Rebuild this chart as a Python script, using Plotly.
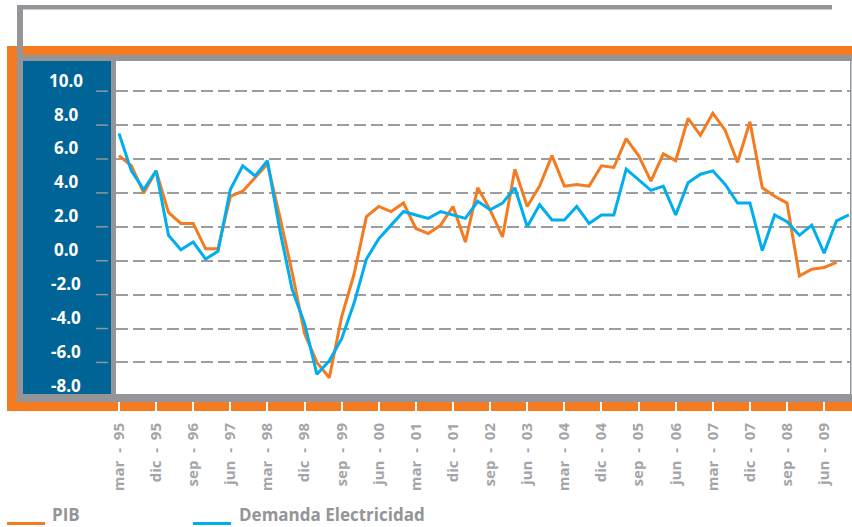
import plotly.graph_objects as go

# ---------------- data ----------------
NB = "\u00a0"
quarters = []
months = ["mar", "jun", "sep", "dic"]
for year in range(1995, 2010):
    for m in months:
        quarters.append(f"{m}{NB}{NB}-{NB}{NB}{str(year)[2:]}")

pib = [6.2, 5.6, 4.0, 5.3, 2.85, 2.2, 2.2, 0.7, 0.7, 3.8,
       4.1, 4.9, 5.7, 2.6, -0.7, -4.3, -6.0, -6.9, -3.3, -0.8,
       2.6, 3.2, 2.9, 3.4, 1.9, 1.6, 2.1, 3.2, 1.1, 4.3,
       3.0, 1.4, 5.4, 3.2, 4.4, 6.2, 4.4, 4.5, 4.4, 5.6,
       5.5, 7.2, 6.2, 4.7, 6.3, 5.9, 8.4, 7.4, 8.7, 7.7,
       5.8, 8.2, 4.3, 3.8, 3.4, -0.9, -0.5, -0.4, -0.1]

demanda = [7.5, 5.3, 4.2, 5.3, 1.5, 0.65, 1.1, 0.1, 0.55, 4.2,
           5.6, 5.0, 5.9, 1.8, -1.7, -3.7, -6.7, -5.9, -4.6, -2.5,
           0.1, 1.3, 2.1, 2.9, 2.7, 2.5, 2.9, 2.7, 2.5, 3.5,
           3.0, 3.4, 4.3, 2.0, 3.3, 2.4, 2.4, 3.2, 2.2, 2.7,
           2.7, 5.4, 4.75, 4.15, 4.4, 2.7, 4.6, 5.1, 5.3, 4.5,
           3.4, 3.4, 0.6, 2.7, 2.3, 1.5, 2.1, 0.45, 2.35, 2.7]

y_ticks = [10, 8, 6, 4, 2, 0, -2, -4, -6, -8]
y_tick_text = ["10.0", "8.0", "6.0", "4.0", "2.0", "0.0", "-2.0", "-4.0", "-6.0", "-8.0"]

x_tick_idx = list(range(0, 58, 3))
x_tick_text = [quarters[i] for i in x_tick_idx]

series_names = ["PIB", "Demanda Electricidad"]

# ---------------- styling ----------------
ORANGE = "#f47b20"
CYAN = "#00aeef"
GRAY = "#939598"
BLUE = "#006496"
LABEL_GRAY = "#a3a5a8"

W, H = 852, 527
L, R, T, B = 116, 2, 61, 132
PW, PH = W - L - R, H - T - B
Y_RANGE = [-7.92, 11.78]


def PX(px):
    return (px - L) / PW


def PY(py):
    return (H - B - py) / PH


def VY(v):
    return (v - Y_RANGE[0]) / (Y_RANGE[1] - Y_RANGE[0])


xs = list(range(len(demanda)))

fig = go.Figure()
fig.add_trace(go.Scatter(x=xs[:len(pib)], y=pib, mode="lines", name=series_names[0],
                         line=dict(color=ORANGE, width=3), showlegend=False))
fig.add_trace(go.Scatter(x=xs, y=demanda, mode="lines", name=series_names[1],
                         line=dict(color=CYAN, width=3), showlegend=False))

shapes = []


def rect(x0, y0, x1, y1, color, layer="below"):
    shapes.append(dict(type="rect", xref="paper", yref="paper",
                       x0=PX(x0), x1=PX(x1), y0=PY(y1), y1=PY(y0),
                       fillcolor=color, line=dict(width=0), layer=layer))


rect(17, 5, 832, 9.5, GRAY)          # top thin gray line
rect(7, 46, 852, 55, ORANGE)         # orange top band
rect(7, 46, 17, 411, ORANGE)         # orange left
rect(7, 401, 852, 411, ORANGE)       # orange bottom
rect(17, 55, 852, 61, GRAY)          # gray top band
rect(17, 5, 23, 402, GRAY)           # gray left
rect(23, 61, 111, 394, BLUE)         # blue label panel
rect(111, 61, 116, 395, GRAY)        # separator
rect(850, 61, 851.5, 395, GRAY)      # right border
rect(17, 394, 852, 402, GRAY, layer="above")  # gray bottom band

# small tick marks in the blue panel
for v in y_ticks[:-1]:
    shapes.append(dict(type="line", xref="paper", yref="y",
                       x0=PX(96), x1=PX(108), y0=v, y1=v,
                       line=dict(color=GRAY, width=1.5), layer="above"))

# legend samples
shapes.append(dict(type="line", xref="paper", yref="paper", x0=PX(7), x1=PX(45),
                   y0=PY(523.5), y1=PY(523.5), line=dict(color=ORANGE, width=3)))
shapes.append(dict(type="line", xref="paper", yref="paper", x0=PX(193), x1=PX(231),
                   y0=PY(523.5), y1=PY(523.5), line=dict(color=CYAN, width=3)))

annotations = []
for v, t in zip(y_ticks, y_tick_text):
    annotations.append(dict(x=PX(66), xref="paper", y=VY(v), yref="paper", yshift=11,
                            text=t, showarrow=False, xanchor="center", yanchor="middle",
                            font=dict(family="Open Sans", size=17, color="white", weight="bold")))

annotations.append(dict(x=PX(51), xref="paper", y=PY(527), yref="paper",
                        text=series_names[0], showarrow=False, xanchor="left", yanchor="bottom",
                        borderpad=0,
                        font=dict(family="Open Sans", size=17, color=GRAY, weight="bold")))
annotations.append(dict(x=PX(238), xref="paper", y=PY(527), yref="paper",
                        text=series_names[1], showarrow=False, xanchor="left", yanchor="bottom",
                        borderpad=0,
                        font=dict(family="Open Sans", size=17, color=GRAY, weight="bold")))

fig.update_layout(
    width=W, height=H,
    margin=dict(l=L, r=R, t=T, b=B, pad=0),
    paper_bgcolor="white", plot_bgcolor="white",
    shapes=shapes, annotations=annotations,
    showlegend=False,
)

fig.update_xaxes(
    range=[-0.2425, 59.09],
    tickmode="array", tickvals=x_tick_idx, ticktext=x_tick_text,
    tickangle=-90, ticks="outside", ticklen=15, tickwidth=1.5, tickcolor="white",
    ticklabelstandoff=6,
    tickfont=dict(family="Open Sans", size=15, color=LABEL_GRAY, weight="bold"),
    showgrid=False, zeroline=False, showline=False,
)
fig.update_yaxes(
    range=Y_RANGE,
    tickmode="array", tickvals=y_ticks,
    showticklabels=False, ticks="",
    showgrid=True, gridcolor="#9d9d9d", gridwidth=1.5, griddash="12px,5px",
    zeroline=False, showline=False,
)

fig.write_html(
    "out.html",
    config={"displayModeBar": False},
    post_script="document.body.style.margin='0';document.body.style.overflow='hidden';",
)
